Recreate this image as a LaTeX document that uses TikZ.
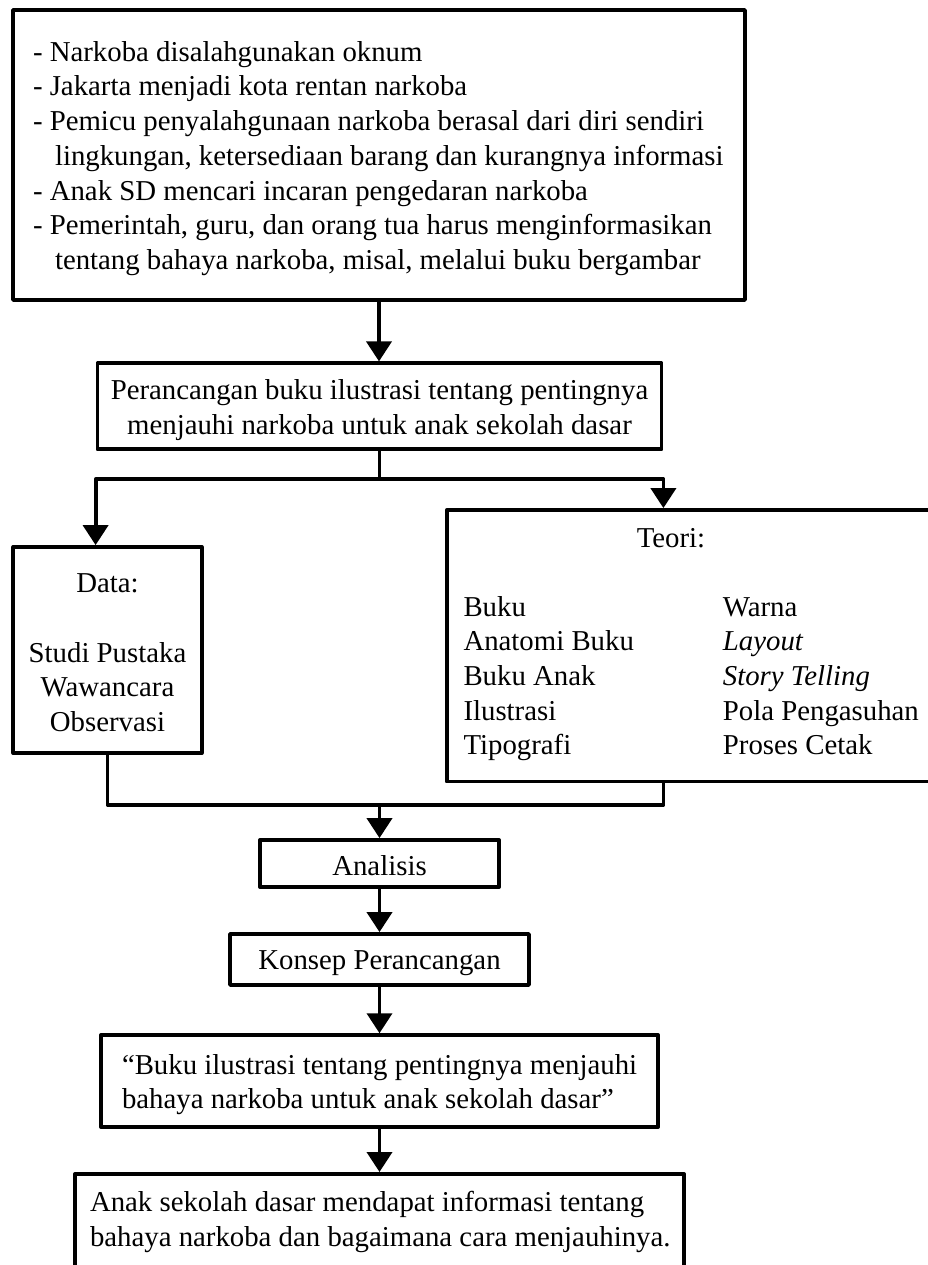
\documentclass[tikz,border=0pt]{standalone}
\usepackage{fontspec}
\setmainfont{Liberation Serif}
\usetikzlibrary{arrows.meta,calc}
\newcommand\mystrut{\rule[-3pt]{0pt}{30pt}}
\newcommand\natsp{\spaceskip=0pt\xspaceskip=0pt\relax}
\begin{document}
\begin{tikzpicture}[x=1pt,y=-1pt,
  box/.style={draw, line width=3.8pt, line join=round, inner sep=0pt, font=\fontsize{28.8pt}{34.7pt}\selectfont},
  arr/.style={line width=3.8pt, line join=round, -{Triangle[length=20pt,width=25pt]}},
  conn/.style={line width=3.8pt, line join=round},
  txt/.style={font=\fontsize{28.8pt}{34.7pt}\selectfont, inner sep=0pt, anchor=base west}]
\useasboundingbox (0,0) rectangle (928,1265);

\node[box, minimum width=732pt, minimum height=290pt, text width=692pt, inner xsep=20pt, align=left] (top) at (379,155)
 {\natsp\mbox{\mystrut- Narkoba disalahgunakan oknum}\\
  \mbox{\mystrut- Jakarta menjadi kota rentan narkoba}\\
  \mbox{\mystrut- Pemicu penyalahgunaan narkoba berasal dari diri sendiri}\\
  \mbox{\mystrut\hspace*{22pt}lingkungan, ketersediaan barang dan kurangnya informasi}\\
  \mbox{\mystrut- Anak SD mencari incaran pengedaran narkoba}\\
  \mbox{\mystrut- Pemerintah, guru, dan orang tua harus menginformasikan}\\
  \mbox{\mystrut\hspace*{22pt}tentang bahaya narkoba, misal, melalui buku bergambar}};

\node[box, minimum width=564pt, minimum height=86pt, align=center] (per) at (379.5,406.3)
 {\mystrut Perancangan buku ilustrasi tentang pentingnya\\\mystrut menjauhi narkoba untuk anak sekolah dasar};

\node[box, minimum width=188.4pt, minimum height=206pt, align=center] (data) at (107.5,650)
 {\mystrut Data:\\\mystrut\\\mystrut Studi Pustaka\\\mystrut Wawancara\\\mystrut Observasi};

\node[box, minimum width=493.3pt, minimum height=271.5pt] (teori) at (693.35,645.75) {};
\node[txt, anchor=base] (th) at (671,547) {Teori:};
\node[txt] (a1) at (463.3,616) {Buku};
\node[txt] (a2) at (463.3,650.7) {Anatomi Buku};
\node[txt] (a3) at (463.3,685.4) {Buku Anak};
\node[txt] (a4) at (463.3,720.1) {Ilustrasi};
\node[txt] (a5) at (463.3,754.8) {Tipografi};
\node[txt] (b1) at (722.7,616) {Warna};
\node[txt] (b2) at (722.7,650.7) {\textit{Layout}};
\node[txt] (b3) at (722.7,685.4) {\textit{Story Telling}};
\node[txt] (b4) at (722.7,720.1) {Pola Pengasuhan};
\node[txt] (b5) at (722.7,754.8) {Proses Cetak};

\node[box, minimum width=238.7pt, minimum height=47pt] (ana) at (379.5,863.5) {\mystrut Analisis};
\node[box, minimum width=299pt, minimum height=51pt] (kon) at (379.5,959.5) {\mystrut Konsep Perancangan};
\node[box, text width=515pt, inner xsep=21pt, minimum height=91.7pt, align=left] (quo) at (379.5,1081)
 {\natsp\mbox{\mystrut “Buku ilustrasi tentang pentingnya menjauhi}\\\mbox{\mystrut bahaya narkoba untuk anak sekolah dasar”}};
\node[box, anchor=north, text width=579pt, inner xsep=15pt, inner ysep=10.5pt, align=left] (fin) at (379.5,1172)
 {\natsp\mbox{\mystrut Anak sekolah dasar mendapat informasi tentang}\\\mbox{\mystrut bahaya narkoba dan bagaimana cara menjauhinya.\rule[-25pt]{0pt}{0pt}}};

\coordinate (split) at (379.5,479.3);
\coordinate (join) at (379.5,805);
\draw[arr] (top.south) -- (top.south |- per.north);
\draw[conn] (per.south) -- (split);
\draw[arr] (split) -| (per.south west |- data.north);
\draw[arr] (split) -| (per.south east |- teori.north);
\draw[conn] (data.south) |- (join);
\draw[conn] (per.south east |- teori.south) |- (join);
\draw[arr] (join) -- (ana.north);
\draw[arr] (ana.south) -- (kon.north);
\draw[arr] (kon.south) -- (quo.north);
\draw[arr] (quo.south) -- (fin.north);
\end{tikzpicture}
\end{document}
